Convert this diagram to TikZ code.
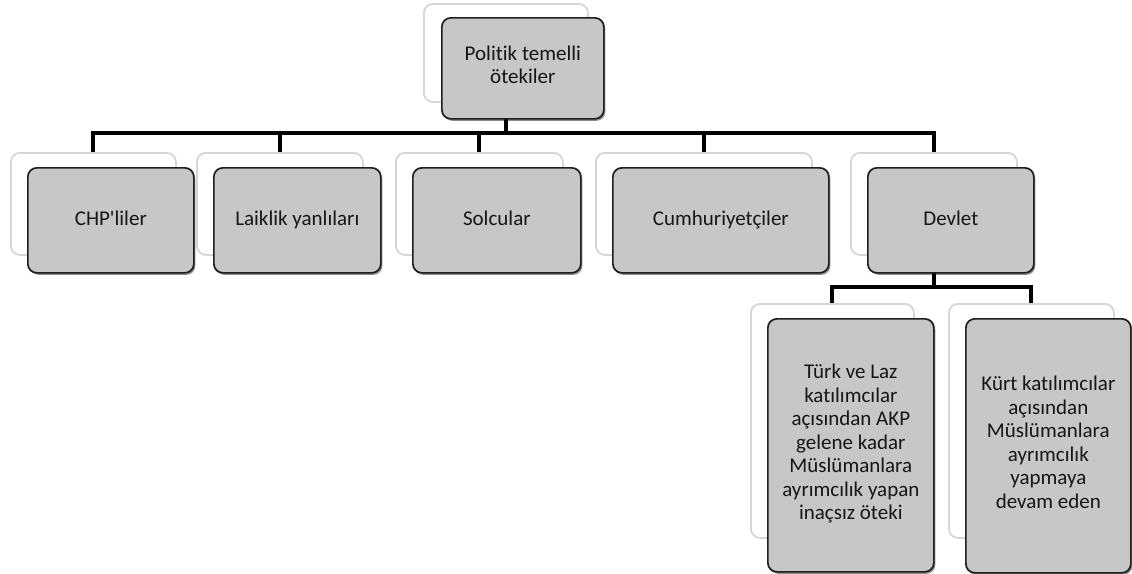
\documentclass[tikz,border=0pt]{standalone}
\usepackage{fontspec}
\setmainfont{Carlito}[Ligatures={NoCommon}]
\usetikzlibrary{shadows}
\pgfdeclarelayer{bg}
\pgfsetlayers{bg,main}
\definecolor{cardgray}{RGB}{199,199,199}
\definecolor{inktext}{RGB}{22,22,22}
\tikzset{
  backcard/.style={draw=black!16, line width=1.8pt, fill=white, rounded corners=9pt,
    inner sep=0pt, anchor=north west},
  frontcard/.style={draw=black!88, line width=1.7pt, fill=cardgray, rounded corners=9pt,
    inner sep=0pt, anchor=north west, align=center, text=inktext,
    font=\fontsize{21}{23.5}\selectfont,
    execute at begin node=\strut, execute at end node=\strut,
    drop shadow={shadow xshift=1.5pt, shadow yshift=-2pt, opacity=0.45, fill=black}},
  conn/.style={draw=black, line width=4pt}
}
\begin{document}
\begin{tikzpicture}[x=1pt, y=-1pt]
\useasboundingbox (0,0) rectangle (1132,573);

% root
\node[backcard, minimum width=164pt, minimum height=98pt] (topb) at (423,3) {};
\node[frontcard, minimum width=162pt, minimum height=101pt] (top) at (441,17) {Politik temelli\\ötekiler};

% second level
\node[backcard, minimum width=165pt, minimum height=102pt] (chpb) at (10,152) {};
\node[frontcard, minimum width=166pt, minimum height=105pt] (chp) at (27,167) {CHP\textquotesingle liler};
\node[backcard, minimum width=166pt, minimum height=102pt] (laib) at (196,152) {};
\node[frontcard, minimum width=167pt, minimum height=105pt] (lai) at (213,167) {Laiklik yanlıları};
\node[backcard, minimum width=167pt, minimum height=102pt] (solb) at (395,152) {};
\node[frontcard, minimum width=168pt, minimum height=105pt] (sol) at (412,167) {Solcular};
\node[backcard, minimum width=216pt, minimum height=102pt] (cumb) at (595,152) {};
\node[frontcard, minimum width=216pt, minimum height=105pt] (cum) at (612,167) {Cumhuriyetçiler};
\node[backcard, minimum width=166pt, minimum height=102pt] (devb) at (850,152) {};
\node[frontcard, minimum width=166pt, minimum height=105pt] (dev) at (867,167) {Devlet};

% third level
\node[backcard, minimum width=163pt, minimum height=234pt] (turb) at (750,303) {};
\node[frontcard, minimum width=166pt, minimum height=253pt] (tur) at (767,318)
  {Türk ve Laz\\katılımcılar\\açısından AKP\\gelene kadar\\Müslümanlara\\ayrımcılık yapan\\inaçsız öteki};
\node[backcard, minimum width=165pt, minimum height=234pt] (kurb) at (948,303) {};
\node[frontcard, minimum width=165pt, minimum height=254pt] (kur) at (965,318)
  {Kürt katılımcılar\\açısından\\Müslümanlara\\ayrımcılık\\yapmaya\\devam eden};

% connectors
\coordinate (busA) at (0,133);
\coordinate (busB) at (0,287);
\begin{pgfonlayer}{bg}
  \foreach \c in {chpb,laib,solb,cumb,devb}
    \draw[conn] (topb.south) -- (topb.south |- busA) -| (\c.north);
  \foreach \c in {turb,kurb}
    \draw[conn] (devb.south) -- (devb.south |- busB) -| (\c.north);
\end{pgfonlayer}
\end{tikzpicture}
\end{document}
